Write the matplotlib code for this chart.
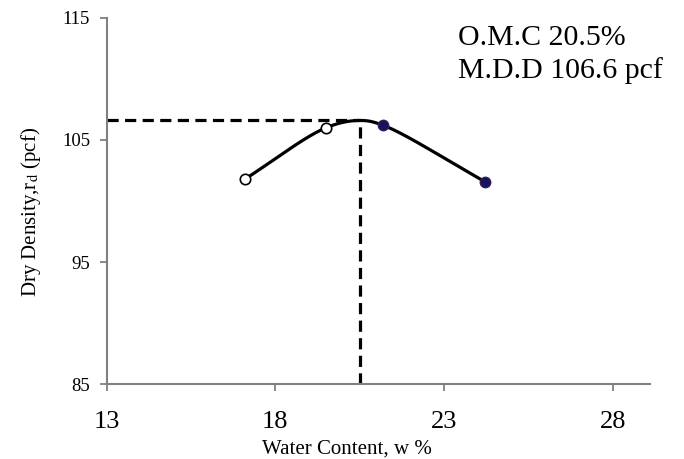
import numpy as np
import matplotlib
matplotlib.use("Agg")
import matplotlib.pyplot as plt

plt.rcParams["font.family"] = ["Liberation Serif", "DejaVu Serif"]
plt.rcParams["mathtext.fontset"] = "stix"

#compaction test points (water content %, dry density pcf)
water_open = [17.1, 19.5]
dens_open = [101.8, 106.0]
water_fill = [21.2, 24.2]
dens_fill = [106.2, 101.6]

#optimum moisture content / max dry density
omc = 20.5
mdd = 106.6

x_ticks = [13, 18, 23, 28]
y_ticks = [85, 95, 105, 115]


def smooth_line(xs, ys, n=40, alpha=0.5, yscale=0.36):
    """Centripetal Catmull-Rom through the points (no overshoot)."""
    pts = np.column_stack([xs, ys]).astype(float)
    pts = np.vstack([2 * pts[0] - pts[1], pts, 2 * pts[-1] - pts[-2]])
    sc = np.array([1.0, yscale])   # distances measured roughly in screen space
    out = []
    for i in range(1, len(pts) - 2):
        P = pts[i - 1:i + 3]
        d = np.linalg.norm(np.diff(P * sc, axis=0), axis=1) ** alpha
        t0, t1, t2, t3 = 0, d[0], d[0] + d[1], d[0] + d[1] + d[2]
        t = np.linspace(t1, t2, n)[:, None]
        A1 = (t1 - t) / (t1 - t0) * P[0] + (t - t0) / (t1 - t0) * P[1]
        A2 = (t2 - t) / (t2 - t1) * P[1] + (t - t1) / (t2 - t1) * P[2]
        A3 = (t3 - t) / (t3 - t2) * P[2] + (t - t2) / (t3 - t2) * P[3]
        B1 = (t2 - t) / (t2 - t0) * A1 + (t - t0) / (t2 - t0) * A2
        B2 = (t3 - t) / (t3 - t1) * A2 + (t - t1) / (t3 - t1) * A3
        C = (t2 - t) / (t2 - t1) * B1 + (t - t1) / (t2 - t1) * B2
        out.append(C)
    out = np.vstack(out)
    return out[:, 0], out[:, 1]


fig = plt.figure(figsize=(6.84, 4.59), dpi=100)
ax = fig.add_axes([0.156, 0.163, 0.794, 0.798])

#curve through the measured points and the peak
sx, sy = smooth_line(water_open + [omc] + water_fill,
                     dens_open + [mdd] + dens_fill)
ax.plot(sx, sy, color="black", lw=2.3, zorder=3)

#dashed guides to the optimum
ax.plot([x_ticks[0], omc], [mdd, mdd], color="black", lw=2.3,
        dashes=(3.5, 2), zorder=2)
ax.plot([omc, omc], [y_ticks[0], mdd], color="black", lw=2.3,
        dashes=(3.5, 2), zorder=2)

ax.plot(water_open, dens_open, "o", ms=7.5, mfc="white", mec="black",
        mew=1.2, zorder=4)
ax.plot(water_fill, dens_fill, "o", ms=7.5, mfc="#14145a", mec="#3a1a5a",
        mew=1.0, zorder=4)

ax.set_xlim(13, 29.1)
ax.set_ylim(85, 115)
ax.set_xticks(x_ticks)
ax.set_yticks(y_ticks)
ax.tick_params(axis="x", labelsize=19, length=5, color="#808080", width=1.3, pad=14)
ax.tick_params(axis="y", labelsize=13.5, length=5, color="#808080", width=1.3, pad=7)

for s in ["top", "right"]:
    ax.spines[s].set_visible(False)
for s in ["left", "bottom"]:
    ax.spines[s].set_color("#808080")
    ax.spines[s].set_linewidth(1.5)

ax.set_xlabel("Water Content, w %", fontsize=15)
ax.set_ylabel("Dry Density,r$_{\\mathrm{d}}$ (pcf)", fontsize=15)
ax.xaxis.set_label_coords(0.442, -0.152)
ax.yaxis.set_label_coords(-0.118, 0.47)

ax.text(0.646, 0.98, f"O.M.C {omc}%\nM.D.D {mdd} pcf",
        transform=ax.transAxes, fontsize=21.5, va="top", ha="left",
        linespacing=1.3)

fig.savefig("out.png", dpi=100)
